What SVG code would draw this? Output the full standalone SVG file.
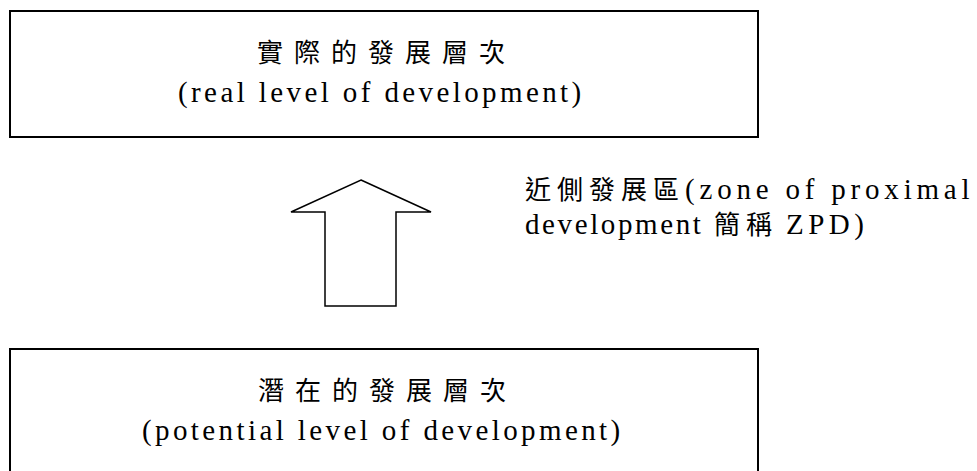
<svg xmlns="http://www.w3.org/2000/svg" width="977" height="471" viewBox="0 0 977 471">
  <style>
    .box { fill: #ffffff; stroke: #000000; stroke-width: 2; }
    .arrow { fill: #ffffff; stroke: #000000; stroke-width: 1.5; stroke-linejoin: miter; }
    text { fill: #000000; }
    .cjk { font-family: "Noto Sans CJK TC", "Noto Sans CJK SC", sans-serif; font-size: 26px; letter-spacing: 11px; }
    .lat { font-family: "Liberation Serif", "Times New Roman", serif; font-size: 29px; letter-spacing: 3.4px; }
    .zl { font-family: "Liberation Serif", "Times New Roman", serif; font-size: 29px; letter-spacing: 4.5px; }
    .zc { font-family: "Noto Sans CJK TC", "Noto Sans CJK SC", sans-serif; font-size: 26px; letter-spacing: 6px; }
  </style>
  <rect width="977" height="471" fill="#ffffff"/>

  <!-- upper level: actual development -->
  <g id="real-level">
    <rect class="box" x="10" y="11" width="748" height="126"/>
    <text class="cjk" x="257" y="62">實際的發展層次</text>
    <text class="lat" x="178" y="102">(real level of development)</text>
  </g>

  <!-- connector: hollow block arrow pointing up -->
  <g id="connectors">
    <polygon class="arrow" points="361,180 431,212 396,212 396,306 325,306 325,212 291,212"/>
  </g>

  <!-- label beside the arrow -->
  <g id="zpd-label">
    <text x="525" y="199"><tspan class="zc">近側發展區</tspan><tspan class="zl" style="letter-spacing:4.8px">(zone of proximal</tspan></text>
    <text x="525" y="234"><tspan class="zl" style="letter-spacing:2.6px">development</tspan><tspan class="zc" x="714">簡稱</tspan><tspan class="zl" x="786" style="letter-spacing:4.5px">ZPD)</tspan></text>
  </g>

  <!-- lower level: potential development -->
  <g id="potential-level">
    <rect class="box" x="10" y="349" width="748" height="140"/>
    <text class="cjk" x="258" y="400">潛在的發展層次</text>
    <text class="lat" x="142" y="440">(potential level of development)</text>
  </g>
</svg>
